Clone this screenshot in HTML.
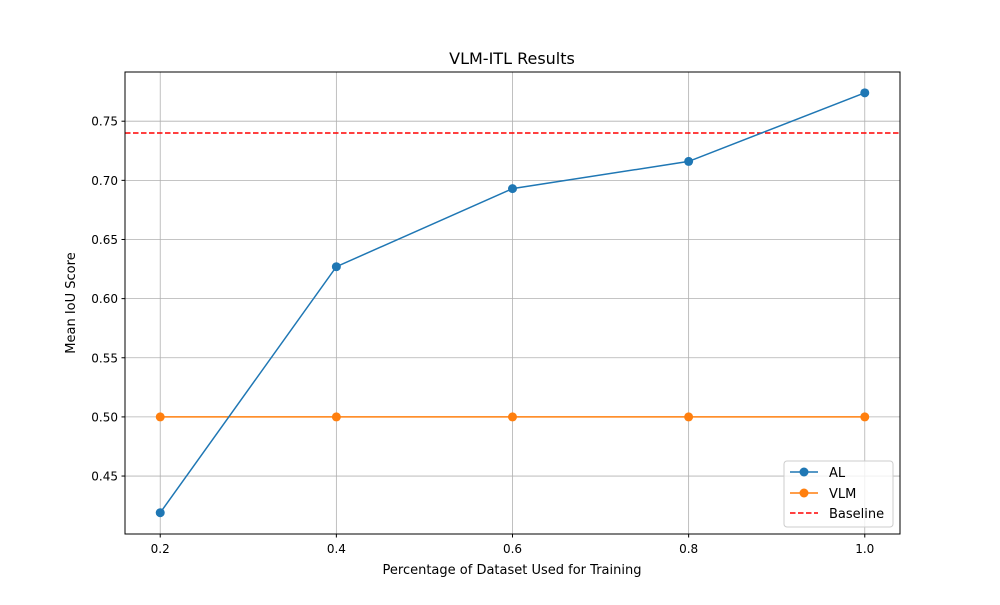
<!DOCTYPE html>
<html><head><meta charset="utf-8"><style>
body{margin:0;background:#fff;font-family:"Liberation Sans","DejaVu Sans",sans-serif;}
svg text{font-family:"DejaVu Sans","Liberation Sans",sans-serif;fill:#000;}
</style></head><body>
<svg id="chart" width="1000" height="600" xmlns="http://www.w3.org/2000/svg">
<rect width="1000" height="600" fill="#fff"/>
<g id="grid"></g>
<g id="series"></g>
<rect x="125" y="72" width="775" height="462" fill="none" stroke="#000" stroke-width="1"/>
<g id="ticks"></g>
<text x="512" y="64" font-size="16" text-anchor="middle">VLM-ITL Results</text>
<text x="512" y="574" font-size="13" text-anchor="middle">Percentage of Dataset Used for Training</text>
<text transform="translate(75,303) rotate(-90)" font-size="13" text-anchor="middle">Mean IoU Score</text>
<g id="legend">
<rect x="784" y="461" width="109" height="66" rx="3" fill="#fff" fill-opacity="0.8" stroke="#ccc"/>
<g><line x1="790" y1="472" x2="818" y2="472" stroke="#1f77b4" stroke-width="1.5"/><circle cx="804" cy="472" r="4.5" fill="#1f77b4"/><text x="829" y="477" font-size="13">AL</text></g>
<g><line x1="790" y1="493" x2="818" y2="493" stroke="#ff7f0e" stroke-width="1.5"/><circle cx="804" cy="493" r="4.5" fill="#ff7f0e"/><text x="829" y="498" font-size="13">VLM</text></g>
<g><line x1="790" y1="513" x2="818" y2="513" stroke="#ff0000" stroke-width="1.5" stroke-dasharray="5.5,2.5"/><text x="829" y="518" font-size="13">Baseline</text></g>
</g>
</svg>
<script>
const xValues=[0.2,0.4,0.6,0.8,1.0];
const alValues=[0.419,0.627,0.693,0.716,0.774];
const vlmValues=[0.5,0.5,0.5,0.5,0.5];
const baselineValue=0.74;
const xTicks=[0.2,0.4,0.6,0.8,1.0];
const yTicks=[0.45,0.50,0.55,0.60,0.65,0.70,0.75];
const NS="http://www.w3.org/2000/svg";
const X0=125,X1=900,Y0=72,Y1=534,xmin=0.16,xmax=1.04,ymin=0.401,ymax=0.7916;
const sx=v=>X0+(v-xmin)/(xmax-xmin)*(X1-X0);
const sy=v=>Y1-(v-ymin)/(ymax-ymin)*(Y1-Y0);
function mk(t,a,p){const e=document.createElementNS(NS,t);for(const k in a)e.setAttribute(k,a[k]);p.appendChild(e);return e;}
const grid=document.getElementById('grid'),ticks=document.getElementById('ticks'),ser=document.getElementById('series');
xTicks.forEach(v=>{const x=sx(v);
const g=mk('line',{x1:x,x2:x,y1:Y0,y2:Y1,stroke:'#b0b0b0','stroke-width':0.8},grid);


mk('line',{x1:x,x2:x,y1:Y1,y2:Y1+3.5,stroke:'#000'},ticks);
const t=mk('text',{x:x,y:Y1+19,'font-size':12,'text-anchor':'middle'},ticks);t.textContent=v.toFixed(1);

});
yTicks.forEach(v=>{const y=sy(v);
const g=mk('line',{x1:X0,x2:X1,y1:y,y2:y,stroke:'#b0b0b0','stroke-width':0.8},grid);


mk('line',{x1:X0-3.5,x2:X0,y1:y,y2:y,stroke:'#000'},ticks);
const t=mk('text',{x:X0-7,y:y+4.5,'font-size':12,'text-anchor':'end'},ticks);t.textContent=v.toFixed(2);

});
const bl=mk('line',{x1:X0,x2:X1,y1:sy(baselineValue),y2:sy(baselineValue),stroke:'#ff0000','stroke-width':1.5,'stroke-dasharray':'5.5,2.5'},ser);


function series(vals,color,name){
const pl=mk('polyline',{points:vals.map((v,i)=>sx(xValues[i])+','+sy(v)).join(' '),fill:'none',stroke:color,'stroke-width':1.5},ser);


vals.forEach((v,i)=>{const c=mk('circle',{cx:sx(xValues[i]),cy:sy(v),r:4.5,fill:color},ser);

});}
series(vlmValues,'#ff7f0e','vlm');
series(alValues,'#1f77b4','al');
</script>
</body></html>
